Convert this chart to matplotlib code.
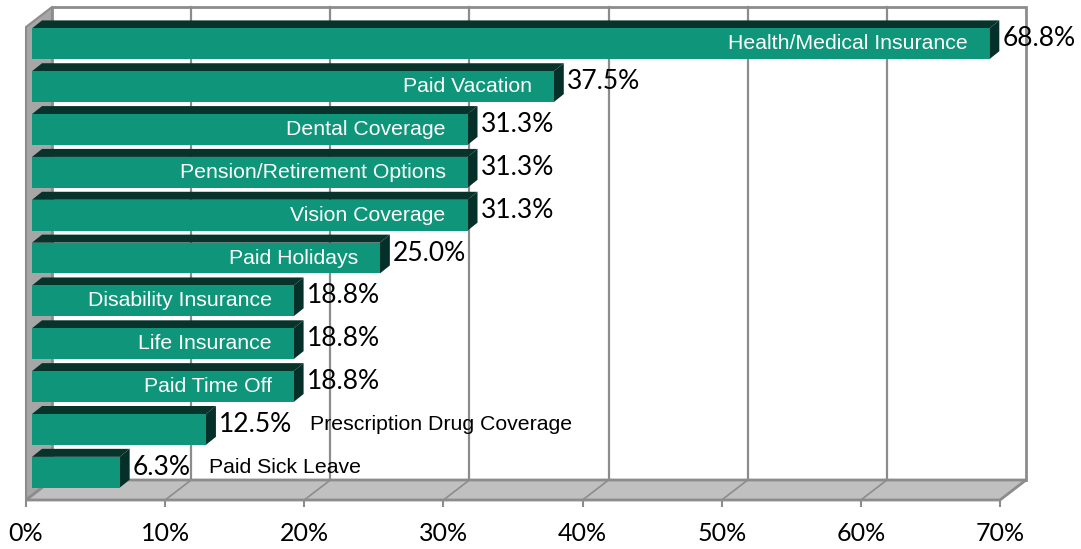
import numpy as np
import matplotlib
matplotlib.use('Agg')
import matplotlib.pyplot as plt
from matplotlib.patches import Polygon
from matplotlib.transforms import IdentityTransform, offset_copy

# data (top to bottom as shown)
categories = ['Health/Medical Insurance', 'Paid Vacation', 'Dental Coverage',
              'Pension/Retirement Options', 'Vision Coverage', 'Paid Holidays',
              'Disability Insurance', 'Life Insurance', 'Paid Time Off',
              'Prescription Drug Coverage', 'Paid Sick Leave']
values = [68.8, 37.5, 31.3, 31.3, 31.3, 25.0, 18.8, 18.8, 18.8, 12.5, 6.3]
inside_label = [True] * 9 + [False] * 2
xticks = [0, 10, 20, 30, 40, 50, 60, 70]
xticklabels = [str(t) + '%' for t in xticks]

colors = {'front': '#0f957a',
          'top': '#07332b',
          'side': '#05302a',
          'wall': '#a6a6a6',
          'floor': '#c0c0c0',
          'edge': '#8c8c8c',
         }

# pseudo 3d offsets in pixels
back = (26, 20)       # back plane of the box
bar_front = (6, 4.6)  # front face of bars
bar_depth = (10, 8)   # depth of bars

W, H = 1081, 549
fig = plt.figure(figsize=(W / 100, H / 100), dpi=100)
ax = fig.add_axes([26 / W, 49 / H, 974 / W, 473 / H])
ax.set_xlim(0, 70)
ylim = (-0.54, 10.5)
ax.set_ylim(*ylim)
for s in ax.spines.values():
    s.set_visible(False)
ax.set_yticks([])
ax.set_xticks(xticks)
ax.set_xticklabels(xticklabels, fontfamily='Lato', fontsize=18)
ax.tick_params(axis='x', length=5, width=1.5, color=colors['edge'], pad=11)


def pt(x, y, off=(0, 0)):
    px, py = ax.transData.transform((x, y))
    return (px + off[0], py + off[1])


def add(off1, off2):
    return (off1[0] + off2[0], off1[1] + off2[1])


def poly(points, fc, ec='none', lw=0, z=1):
    p = Polygon(points, closed=True, facecolor=fc, edgecolor=ec, linewidth=lw,
                transform=IdentityTransform(), clip_on=False, zorder=z)
    ax.add_patch(p)


y0, y1 = ylim
# back wall
poly([pt(0, y0, back), pt(70, y0, back), pt(70, y1, back), pt(0, y1, back)],
     'white', colors['edge'], 2, z=0.5)
for t in xticks[1:-1]:
    ax.plot(*zip(pt(t, y0, back), pt(t, y1, back)), color=colors['edge'], lw=1.6,
            transform=IdentityTransform(), clip_on=False, zorder=0.6)
# left wall
poly([pt(0, y0), pt(0, y1), pt(0, y1, back), pt(0, y0, back)],
     colors['wall'], colors['edge'], 1.5, z=0.7)
# floor
poly([pt(0, y0), pt(70, y0), pt(70, y0, back), pt(0, y0, back)],
     colors['floor'], colors['edge'], 2, z=0.8)
for t in xticks[1:-1]:
    ax.plot(*zip(pt(t, y0), pt(t, y0, back)), color=colors['edge'], lw=1.2,
            transform=IdentityTransform(), clip_on=False, zorder=0.9)

# bars
n = len(categories)
ypos = np.arange(n)[::-1]
bh = 0.72
front_trans = offset_copy(ax.transData, fig=fig, x=bar_front[0], y=bar_front[1], units='dots')
deep = add(bar_front, bar_depth)
ax.barh(ypos, values, height=bh, color=colors['front'], transform=front_trans,
        zorder=3, clip_on=False)
for yi, v in zip(ypos, values):
    ya, yb = yi - bh / 2, yi + bh / 2
    # top face
    poly([pt(0, yb, bar_front), pt(v, yb, bar_front), pt(v, yb, deep), pt(0, yb, deep)],
         colors['top'], z=2.5)
    # side face
    poly([pt(v, ya, bar_front), pt(v, yb, bar_front), pt(v, yb, deep), pt(v, ya, deep)],
         colors['side'], z=2.6)

# labels
lab_trans = offset_copy(ax.transData, fig=fig, x=bar_front[0] - 22, y=bar_front[1], units='dots')
val_trans = offset_copy(ax.transData, fig=fig, x=deep[0] + 3, y=bar_front[1] + 5, units='dots')
for yi, v, name, inside in zip(ypos, values, categories, inside_label):
    vt = ax.text(v, yi, '%.1f%%' % v, transform=val_trans, ha='left', va='center',
                 fontfamily='Lato', fontsize=19, color='black', zorder=5)
    if inside:
        ax.text(v, yi, name, transform=lab_trans, ha='right', va='center',
                fontfamily='Liberation Sans', fontsize=15.3, color='white', zorder=5)
    else:
        ax.annotate(name, xy=(1, 0.5), xycoords=vt, xytext=(18, 0),
                    textcoords='offset pixels', ha='left', va='center',
                    fontfamily='Liberation Sans', fontsize=15.3, color='black', zorder=5)

fig.savefig('out.png', dpi=100)
